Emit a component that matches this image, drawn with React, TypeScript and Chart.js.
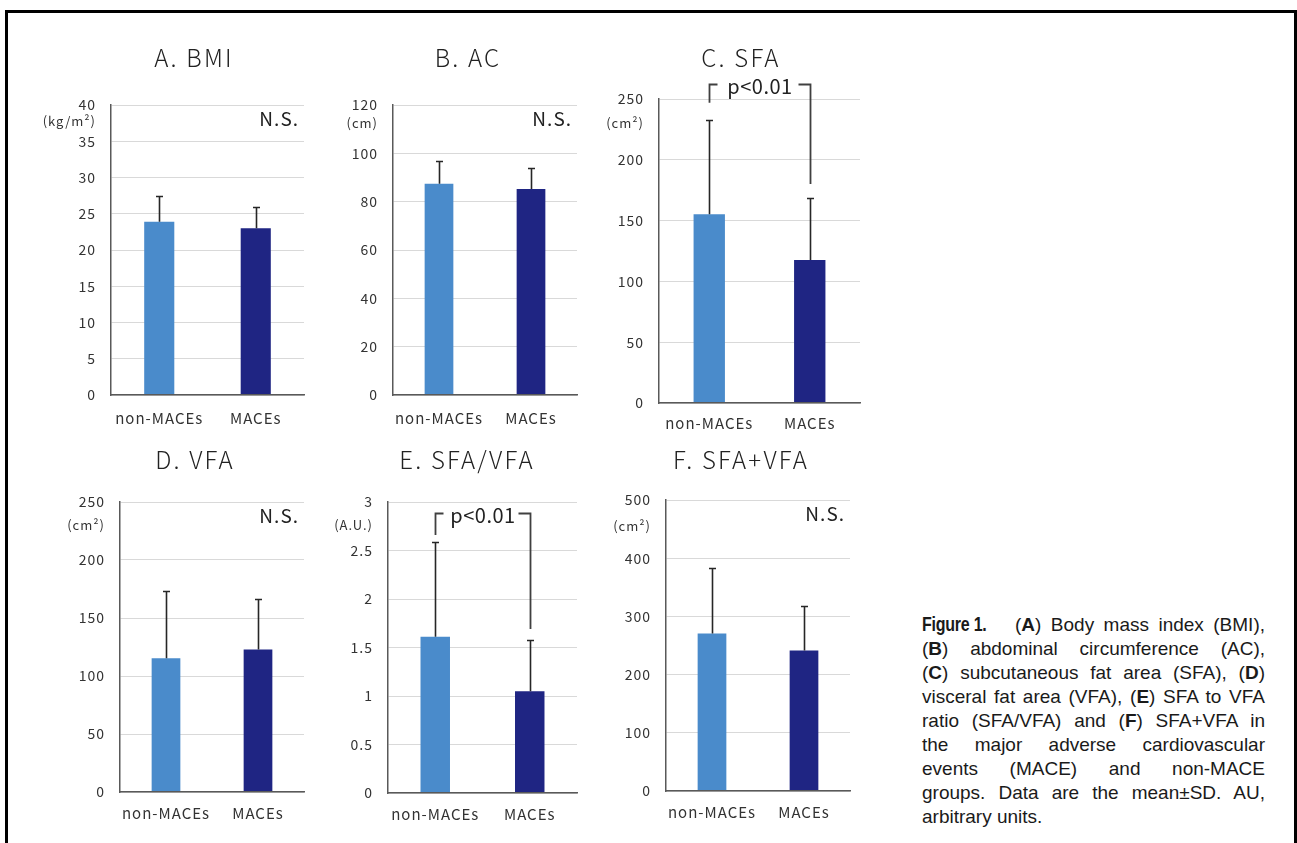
import React, { useEffect, useRef } from "react";
import { Chart, registerables } from "chart.js";

Chart.register(...registerables);

// ---------- data ----------
const categories = ["non-MACEs", "MACEs"];

const bmiMean = [23.9, 23.0];
const bmiSD = [3.6, 2.9];
const acMean = [87.4, 85.2];
const acSD = [9.4, 8.6];
const sfaMean = [155.2, 117.6];
const sfaSD = [77.7, 50.8];
const vfaMean = [115.2, 122.9];
const vfaSD = [57.8, 43.7];
const ratioMean = [1.61, 1.05];
const ratioSD = [0.98, 0.53];
const sumMean = [270.8, 241.5];
const sumSD = [111.8, 76.2];

// y-axis ranges: [max, step]
const bmiAxis = [40, 5];
const acAxis = [120, 20];
const sfaAxis = [250, 50];
const vfaAxis = [250, 50];
const ratioAxis = [3, 0.5];
const sumAxis = [500, 100];

// significance brackets: [top, left end, right end] in data units
const sfaBracket = [262, 247, 180];
const ratioBracket = [2.89, 2.66, 1.69];

const titles = ["A. BMI", "B. AC", "C. SFA", "D. VFA", "E. SFA/VFA", "F. SFA+VFA"];
const units = ["(kg/m²)", "(cm)", "(cm²)", "(cm²)", "(A.U.)", "(cm²)"];
const nsLabel = "N.S.";
const pLabel = "p<0.01";

// ---------- styles ----------
const FONT = '"Noto Sans CJK JP", "Noto Sans", sans-serif';
const LIGHT = "#4A8BCB";
const DARK = "#1F2583";
const GRID = "#d9d9d9";
const AXIS = "#595959";
const TEXT = "#333333";
const Y_W = 80;
const TOP = 70;
const RIGHT = 12;
const X_H = 40;

type Panel = {
  title: string;
  unit: string;
  mean: number[];
  sd: number[];
  axis: number[];
  note: string | null;
  bracket: number[] | null;
  area: { l: number; t: number; r: number; b: number };
  titleX: number;
  titleY: number;
  unitDy: number;
  xPad: number;
};

const panels: Panel[] = [
  { title: titles[0], unit: units[0], mean: bmiMean, sd: bmiSD, axis: bmiAxis, note: nsLabel, bracket: null,
    area: { l: 111, t: 105, r: 304, b: 395 }, titleX: 193, titleY: 58, unitDy: 16, xPad: 14 },
  { title: titles[1], unit: units[1], mean: acMean, sd: acSD, axis: acAxis, note: nsLabel, bracket: null,
    area: { l: 393, t: 105, r: 577, b: 395 }, titleX: 467, titleY: 58, unitDy: 18, xPad: 14 },
  { title: titles[2], unit: units[2], mean: sfaMean, sd: sfaSD, axis: sfaAxis, note: null, bracket: sfaBracket,
    area: { l: 659, t: 99, r: 860, b: 403 }, titleX: 740, titleY: 58, unitDy: 24, xPad: 11 },
  { title: titles[3], unit: units[3], mean: vfaMean, sd: vfaSD, axis: vfaAxis, note: nsLabel, bracket: null,
    area: { l: 120, t: 502, r: 304, b: 792 }, titleX: 194, titleY: 460, unitDy: 23, xPad: 12 },
  { title: titles[4], unit: units[4], mean: ratioMean, sd: ratioSD, axis: ratioAxis, note: null, bracket: ratioBracket,
    area: { l: 388, t: 502, r: 577, b: 793 }, titleX: 466, titleY: 460, unitDy: 23, xPad: 12 },
  { title: titles[5], unit: units[5], mean: sumMean, sd: sumSD, axis: sumAxis, note: nsLabel, bracket: null,
    area: { l: 666, t: 500, r: 850, b: 791 }, titleX: 740, titleY: 460, unitDy: 26, xPad: 12 },
];

function canvasBox(p: Panel) {
  return {
    left: p.area.l - Y_W,
    top: p.area.t - TOP,
    width: p.area.r - p.area.l + Y_W + RIGHT,
    height: p.area.b - p.area.t + TOP + X_H,
  };
}

function BarPanel({ p }: { p: Panel }) {
  const ref = useRef<HTMLCanvasElement | null>(null);
  const box = canvasBox(p);

  useEffect(() => {
    if (!ref.current) return;
    const annot = {
      id: "annot",
      beforeDraw(chart: any) {
        (chart.ctx as any).letterSpacing = "1px";
      },
      afterDraw(chart: any) {
        const ctx = chart.ctx as any;
        const ys = chart.scales.y;
        const ca = chart.chartArea;
        const meta = chart.getDatasetMeta(0);
        ctx.save();
        // error bars (upper whisker only)
        ctx.strokeStyle = "#262626";
        ctx.lineWidth = 1.6;
        meta.data.forEach((bar: any, i: number) => {
          const x = Math.round(bar.x) + 0.5;
          const y0 = bar.y;
          const y1 = Math.round(ys.getPixelForValue(p.mean[i] + p.sd[i])) + 0.5;
          ctx.beginPath();
          ctx.moveTo(x, y0);
          ctx.lineTo(x, y1);
          ctx.moveTo(x - 3.5, y1);
          ctx.lineTo(x + 3.5, y1);
          ctx.stroke();
        });
        // title
        ctx.fillStyle = "#222";
        ctx.font = `300 24px ${FONT}`;
        ctx.letterSpacing = "2.2px";
        ctx.textAlign = "center";
        ctx.textBaseline = "middle";
        ctx.fillText(p.title, p.titleX - box.left + 1, p.titleY - box.top);
        // unit
        ctx.fillStyle = TEXT;
        ctx.font = `13px ${FONT}`;
        ctx.letterSpacing = "1px";
        ctx.textAlign = "right";
        ctx.fillText(p.unit, ca.left - 15, ca.top + p.unitDy);
        // N.S.
        if (p.note) {
          ctx.fillStyle = "#222";
          ctx.font = `19px ${FONT}`;
          ctx.letterSpacing = "1px";
          ctx.textAlign = "right";
          ctx.fillText(p.note, ca.right - 5, ca.top + 14);
        }
        // bracket
        if (p.bracket) {
          const x1 = Math.round(meta.data[0].x) + 0.5;
          const x2 = Math.round(meta.data[1].x) + 0.5;
          const yT = Math.round(ys.getPixelForValue(p.bracket[0])) + 0.5;
          const yL = ys.getPixelForValue(p.bracket[1]);
          const yR = ys.getPixelForValue(p.bracket[2]);
          ctx.strokeStyle = "#404040";
          ctx.lineWidth = 1.8;
          ctx.beginPath();
          ctx.moveTo(x1, yL);
          ctx.lineTo(x1, yT);
          ctx.lineTo(x1 + 8, yT);
          ctx.moveTo(x2 - 12, yT);
          ctx.lineTo(x2, yT);
          ctx.lineTo(x2, yR);
          ctx.stroke();
          ctx.fillStyle = "#222";
          ctx.font = `20px ${FONT}`;
          ctx.letterSpacing = "0.5px";
          ctx.textAlign = "center";
          ctx.textBaseline = "middle";
          ctx.fillText(pLabel, (x1 + x2) / 2, yT + 2);
        }
        ctx.restore();
      },
    };

    const chart = new Chart(ref.current, {
      type: "bar",
      data: {
        labels: categories,
        datasets: [
          {
            data: p.mean,
            backgroundColor: [LIGHT, DARK],
            borderWidth: 0,
            barPercentage: 0.312,
            categoryPercentage: 1,
          },
        ],
      },
      options: {
        animation: false,
        responsive: false,
        maintainAspectRatio: false,
        devicePixelRatio: 1,
        layout: { padding: { left: 0, top: TOP, right: RIGHT, bottom: 0 } },
        plugins: {
          legend: { display: false },
          tooltip: { enabled: false },
          title: { display: false },
        },
        scales: {
          x: {
            grid: { display: false, drawTicks: false },
            border: { display: true, color: AXIS, width: 1.5, z: 1 },
            ticks: { font: { family: FONT, size: 15 }, color: TEXT, padding: p.xPad },
            afterFit: (s: any) => {
              s.height = X_H;
              s.paddingLeft = 0;
              s.paddingRight = 0;
            },
          },
          y: {
            min: 0,
            max: p.axis[0],
            ticks: {
              stepSize: p.axis[1],
              font: { family: FONT, size: 14 },
              color: TEXT,
              padding: 15,
              callback: (v: any) => String(v),
            },
            grid: { color: GRID, lineWidth: 1, drawTicks: false },
            border: { display: true, color: AXIS, width: 1.5, z: 1 },
            afterFit: (s: any) => {
              s.width = Y_W;
              s.paddingTop = 0;
              s.paddingBottom = 0;
            },
          },
        },
      } as any,
      plugins: [annot],
    });
    return () => chart.destroy();
  }, []);

  return (
    <canvas
      ref={ref}
      width={box.width}
      height={box.height}
      style={{ position: "absolute", left: box.left, top: box.top, width: box.width, height: box.height }}
    />
  );
}

const capFont = '"Liberation Sans", Arial, Helvetica, sans-serif';
const lineStyle: React.CSSProperties = { textAlign: "justify", textAlignLast: "justify" };

export default function App() {
  return (
    <div
      style={{
        position: "absolute",
        left: 0,
        top: 0,
        width: 1297,
        height: 843,
        overflow: "hidden",
        background: "#fff",
      }}
    >
      <div
        style={{
          position: "absolute",
          left: 5,
          top: 10,
          width: 1286,
          height: 900,
          border: "3px solid #000",
        }}
      />
      {panels.map((p, i) => (
        <BarPanel key={i} p={p} />
      ))}
      <div
        style={{
          position: "absolute",
          left: 922,
          top: 612,
          width: 343,
          fontFamily: capFont,
          fontSize: 19,
          lineHeight: "24px",
          color: "#1a1a1a",
        }}
      >
        <div style={lineStyle}>
          <span
            style={{
              display: "inline-block",
              fontWeight: 700,
              fontSize: 20,
              transform: "scaleX(0.8)",
              transformOrigin: "left center",
              marginRight: -16,
              letterSpacing: "-0.3px",
            }}
          >
            Figure 1.
          </span>
          {"\u00a0\u00a0 "}(<b>A</b>) Body mass index (BMI),
        </div>
        <div style={lineStyle}>
          (<b>B</b>) abdominal circumference (AC),
        </div>
        <div style={lineStyle}>
          (<b>C</b>) subcutaneous fat area (SFA), (<b>D</b>)
        </div>
        <div style={lineStyle}>
          visceral fat area (VFA), (<b>E</b>) SFA to VFA
        </div>
        <div style={lineStyle}>
          ratio (SFA/VFA) and (<b>F</b>) SFA+VFA in
        </div>
        <div style={lineStyle}>the major adverse cardiovascular</div>
        <div style={lineStyle}>events (MACE) and non-MACE</div>
        <div style={lineStyle}>groups. Data are the mean±SD. AU,</div>
        <div style={{ whiteSpace: "nowrap" }}>arbitrary units.</div>
      </div>
    </div>
  );
}
